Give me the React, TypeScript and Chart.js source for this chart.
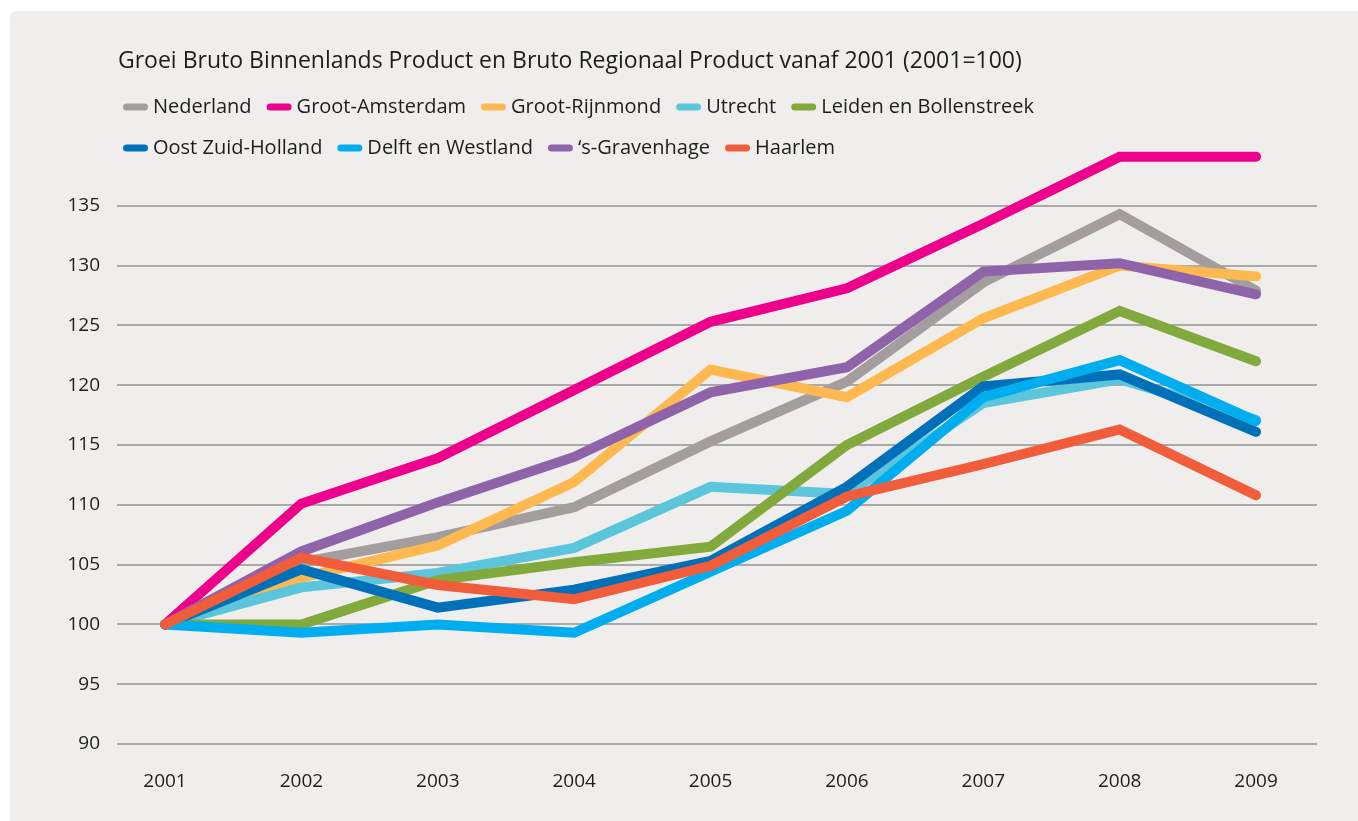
import React, { useEffect, useRef } from "react";
import { Chart, registerables } from "chart.js";

Chart.register(...registerables);

const title = "Groei Bruto Binnenlands Product en Bruto Regionaal Product vanaf 2001 (2001=100)";
const years = [2001, 2002, 2003, 2004, 2005, 2006, 2007, 2008, 2009];
const yTickMax = 135;

const seriesNames = [
  "Nederland",
  "Groot-Amsterdam",
  "Groot-Rijnmond",
  "Utrecht",
  "Leiden en Bollenstreek",
  "Oost Zuid-Holland",
  "Delft en Westland",
  "\u2018s-Gravenhage",
  "Haarlem",
];
const seriesColors = [
  "#a39e9d",
  "#ec008c",
  "#fdb94f",
  "#5bc5dc",
  "#82a93c",
  "#0071b9",
  "#00adee",
  "#8e63a9",
  "#f15c3a",
];

const nederland = [100, 105.2, 107.3, 109.8, 115.3, 120.3, 128.6, 134.3, 127.9];
const grootAmsterdam = [100, 110.1, 113.9, 119.6, 125.3, 128.1, 133.5, 139.1, 139.1];
const grootRijnmond = [100, 103.9, 106.6, 111.9, 121.3, 119.0, 125.6, 130.0, 129.1];
const utrecht = [100, 103.1, 104.3, 106.4, 111.5, 110.9, 118.5, 120.5, 117.1];
const leiden = [100, 100, 103.7, 105.2, 106.5, 115.0, 120.7, 126.2, 122.0];
const oostZuidHolland = [100, 104.6, 101.4, 102.9, 105.3, 111.5, 119.9, 120.9, 116.1];
const delftWestland = [100, 99.3, 100.0, 99.3, 104.4, 109.5, 119.0, 122.1, 117.0];
const gravenhage = [100, 106.1, 110.2, 114.0, 119.4, 121.5, 129.5, 130.2, 127.6];
const haarlem = [100, 105.6, 103.3, 102.1, 104.9, 110.7, 113.4, 116.3, 110.8];

const seriesValues = [
  nederland,
  grootAmsterdam,
  grootRijnmond,
  utrecht,
  leiden,
  oostZuidHolland,
  delftWestland,
  gravenhage,
  haarlem,
];

const legendRows = [
  [0, 1, 2, 3, 4],
  [5, 6, 7, 8],
];

const FONT = "'Open Sans', 'DejaVu Sans', sans-serif";
const TEXT = "#1d1d1b";

const headerPlugin = {
  id: "header",
  afterDraw(chart: any) {
    const ctx = chart.ctx as CanvasRenderingContext2D;
    ctx.save();
    ctx.fillStyle = TEXT;
    ctx.textBaseline = "middle";
    ctx.textAlign = "left";
    ctx.font = `23px ${FONT}`;
    ctx.fillText(title, 108, 50);

    ctx.font = `20px ${FONT}`;
    const rowY = [96, 137];
    legendRows.forEach((row, r) => {
      let x = 113;
      row.forEach((i) => {
        ctx.strokeStyle = seriesColors[i];
        ctx.lineWidth = 7;
        ctx.lineCap = "round";
        ctx.beginPath();
        ctx.moveTo(x + 3.5, rowY[r]);
        ctx.lineTo(x + 21.5, rowY[r]);
        ctx.stroke();
        const tx = x + 30;
        ctx.fillText(seriesNames[i], tx, rowY[r]);
        x = tx + ctx.measureText(seriesNames[i]).width + 15;
      });
    });
    ctx.restore();
  },
};

export default function App() {
  const ref = useRef<HTMLCanvasElement>(null);

  useEffect(() => {
    if (!ref.current) return;
    const chart = new Chart(ref.current, {
      type: "line",
      data: {
        datasets: seriesNames.map((name, i) => ({
          label: name,
          data: years.map((yr, j) => ({ x: yr, y: seriesValues[i][j] })),
          borderColor: seriesColors[i],
          backgroundColor: seriesColors[i],
          borderWidth: 10,
          borderCapStyle: "round" as const,
          borderJoinStyle: "miter" as const,
          pointRadius: 0,
          pointHoverRadius: 0,
          tension: 0,
          fill: false,
          clip: false as any,
          order: seriesNames.length - i,
        })),
      },
      options: {
        animation: false,
        responsive: false,
        maintainAspectRatio: false,
        layout: { padding: { left: 47, right: 41, top: 135, bottom: 30 } },
        plugins: {
          legend: { display: false },
          title: { display: false },
          tooltip: { enabled: false },
        },
        scales: {
          x: {
            type: "linear",
            min: 2000.648,
            max: 2009.447,
            grid: { display: false, drawTicks: false },
            border: { display: false },
            afterBuildTicks: (scale: any) => {
              scale.ticks = years.map((v) => ({ value: v }));
            },
            afterFit: (scale: any) => {
              scale.height = 47;
            },
            ticks: {
              padding: 26,
              color: TEXT,
              font: { family: FONT, size: 19 },
              callback: (v: any) => String(v),
              maxRotation: 0,
              autoSkip: false,
            },
          },
          y: {
            min: 90,
            max: 140,
            grid: { color: "#a9a9ac", lineWidth: 2, drawTicks: false },
            border: { display: false },
            afterBuildTicks: (scale: any) => {
              scale.ticks = scale.ticks.filter((t: any) => t.value <= yTickMax);
            },
            afterFit: (scale: any) => {
              scale.width = 60;
            },
            ticks: {
              stepSize: 5,
              padding: 17,
              color: TEXT,
              font: { family: FONT, size: 19 },
            },
          },
        },
      },
      plugins: [headerPlugin],
    });
    return () => chart.destroy();
  }, []);

  return (
    <div
      style={{
        position: "fixed",
        left: 10,
        top: 11,
        width: 1348,
        height: 810,
        background: "#efeeec",
        borderTopLeftRadius: 6,
        overflow: "hidden",
      }}
    >
      <canvas ref={ref} width={1348} height={810} style={{ display: "block" }} />
    </div>
  );
}
